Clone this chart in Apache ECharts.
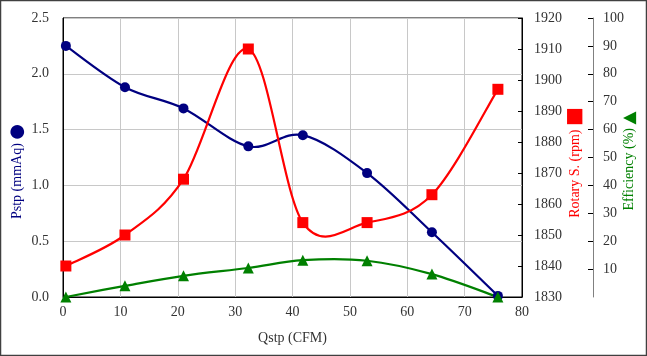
<!DOCTYPE html>
<html>
<head>
<meta charset="utf-8">
<script src="https://cdn.jsdelivr.net/npm/echarts@6/dist/echarts.min.js"></script>
<style>html,body{margin:0;padding:0;background:#fff}#c{width:647px;height:356px}</style>
</head>
<body>
<div id="c"></div>
<script>
var qstp = [0.5, 10.8, 21, 32.3, 41.8, 53, 64.3, 75.8];
var pstp = [2.25, 1.88, 1.69, 1.35, 1.45, 1.11, 0.58, 0.01];
var rotary = [1840, 1850, 1868, 1910, 1854, 1854, 1863, 1897];
var efficiency = [0, 4, 7.6, 10.4, 13.2, 13.0, 8.2, 0];

function pairs(xs, ys) { return xs.map(function (x, i) { return [x, ys[i]]; }); }

// Smoothed (Catmull-Rom style) curve segment between data point i and i+1,
// positioned through the library's own axes via api.coord.
function curveSeries(ys, color, yAxisIndex) {
  return {
    type: 'custom', yAxisIndex: yAxisIndex, data: pairs(qstp, ys), z: 2, silent: true,
    renderItem: function (params, api) {
      var i = params.dataIndex, n = qstp.length;
      if (i >= n - 1) return null;
      function P(j) { j = Math.max(0, Math.min(n - 1, j)); return api.coord([qstp[j], ys[j]]); }
      var p0 = P(i - 1), p1 = P(i), p2 = P(i + 1), p3 = P(i + 2);
      return {
        type: 'bezierCurve',
        shape: {
          x1: p1[0], y1: p1[1], x2: p2[0], y2: p2[1],
          cpx1: p1[0] + (p2[0] - p0[0]) / 6, cpy1: p1[1] + (p2[1] - p0[1]) / 6,
          cpx2: p2[0] - (p3[0] - p1[0]) / 6, cpy2: p2[1] - (p3[1] - p1[1]) / 6
        },
        style: {stroke: color, lineWidth: 2.2, fill: null}
      };
    }
  };
}

function markerSeries(ys, color, yAxisIndex, symbol, size) {
  return {
    type: 'scatter', yAxisIndex: yAxisIndex, data: pairs(qstp, ys), z: 3,
    symbol: symbol, symbolSize: size, itemStyle: {color: color, opacity: 1}
  };
}

var FONT = '"Liberation Serif", "DejaVu Serif", serif';
var chart = echarts.init(document.getElementById('c'), null, {renderer: 'canvas'});
chart.setOption({
  animation: false,
  textStyle: {fontFamily: FONT},
  grid: {left: 63, right: 125, top: 18, bottom: 59, containLabel: false, outerBoundsMode: 'none',
    show: true, borderColor: '#000', borderWidth: 1},
  graphic: [{type: 'rect', shape: {x: 0.5, y: 0.5, width: 646, height: 355}, style: {fill: null, stroke: '#404040', lineWidth: 1.5}}],
  xAxis: {
    type: 'value', min: 0, max: 80, interval: 10,
    name: 'Qstp (CFM)', nameLocation: 'middle', nameGap: 34, nameMoveOverlap: false,
    nameTextStyle: {fontFamily: FONT, fontSize: 14, color: '#333'},
    axisLine: {lineStyle: {color: '#000'}},
    axisTick: {show: false},
    axisLabel: {fontFamily: FONT, fontSize: 14, color: '#333', margin: 8},
    splitLine: {show: true, lineStyle: {color: '#c8c8c8', width: 1}}
  },
  yAxis: [{
    type: 'value', min: 0, max: 2.5, interval: 0.5, position: 'left',
    name: 'Pstp (mmAq) {c|●}', nameLocation: 'middle', nameGap: 37, nameRotate: 90, nameMoveOverlap: false,
    nameTextStyle: {fontFamily: FONT, fontSize: 14, color: '#000080', padding: [0, 28, 0, 0],
      rich: {c: {fontSize: 18, color: '#000080', fontFamily: 'DejaVu Sans'}}},
    axisLine: {show: true, lineStyle: {color: '#000'}},
    axisTick: {show: false},
    axisLabel: {fontFamily: FONT, fontSize: 14, color: '#333', formatter: function (v) { return v.toFixed(1); }, margin: 14},
    splitLine: {show: true, lineStyle: {color: '#c8c8c8', width: 1}}
  }, {
    type: 'value', min: 1830, max: 1920, interval: 10, position: 'right',
    name: 'Rotary S. (rpm) {s|■}', nameLocation: 'middle', nameGap: 43, nameRotate: 90, nameMoveOverlap: false,
    nameTextStyle: {fontFamily: FONT, fontSize: 14, color: '#ff0000', padding: [0, 10, 0, 0],
      rich: {s: {fontSize: 20, color: '#ff0000', fontFamily: 'DejaVu Sans'}}},
    axisLine: {show: true, lineStyle: {color: '#000'}},
    axisTick: {show: true, inside: true, length: 4, lineStyle: {color: '#000'}},
    axisLabel: {fontFamily: FONT, fontSize: 14, color: '#333', margin: 12, formatter: function (v) { return String(v); }},
    splitLine: {show: false}
  }, {
    type: 'value', min: 0, max: 100, interval: 10, position: 'right', offset: 71,
    name: 'Efficiency (%) {t|▲}', nameLocation: 'middle', nameGap: 28, nameRotate: 90, nameMoveOverlap: false,
    nameTextStyle: {fontFamily: FONT, fontSize: 14, color: '#008000', padding: [0, 7, 0, 0],
      rich: {t: {fontSize: 17, color: '#008000', fontFamily: 'DejaVu Sans'}}},
    axisLine: {show: true, lineStyle: {color: '#808080'}},
    axisTick: {show: true, inside: true, length: 5, lineStyle: {color: '#000'}},
    axisLabel: {fontFamily: FONT, fontSize: 14, color: '#333', margin: 10, showMinLabel: false},
    splitLine: {show: false}
  }],
  series: [
    curveSeries(pstp, '#000080', 0),
    curveSeries(rotary, '#ff0000', 1),
    curveSeries(efficiency, '#008000', 2),
    markerSeries(pstp, '#000080', 0, 'circle', 10),
    markerSeries(rotary, '#ff0000', 1, 'rect', 11),
    markerSeries(efficiency, '#008000', 2, 'triangle', 11)
  ]
});
</script>
</body>
</html>
